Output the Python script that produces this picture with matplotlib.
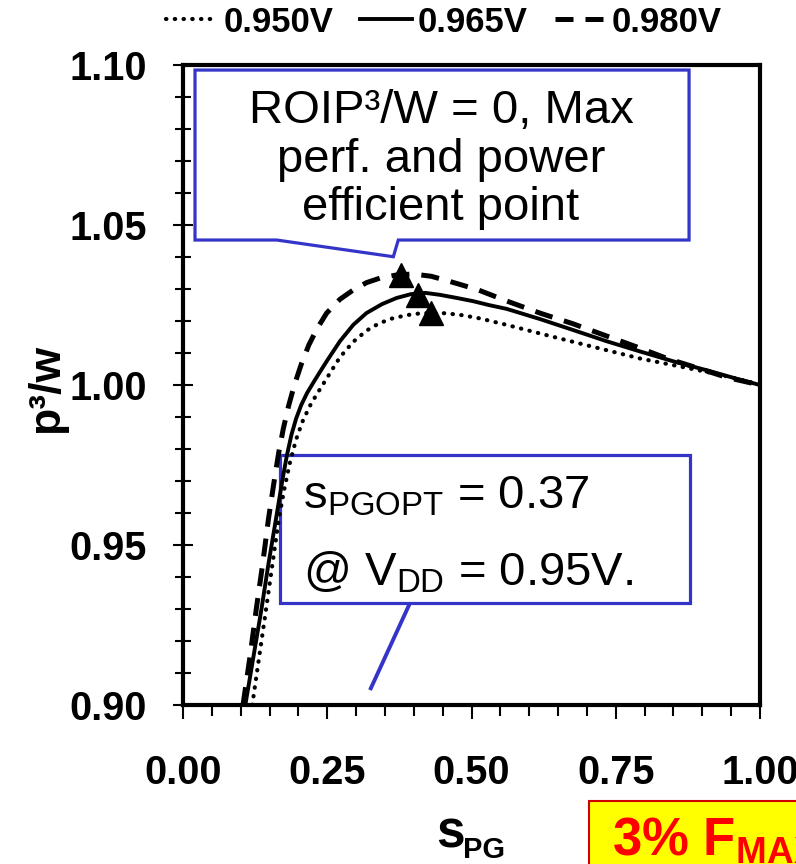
import matplotlib
matplotlib.use("Agg")
import matplotlib.pyplot as plt
from matplotlib.patches import Polygon, Rectangle
from matplotlib.ticker import MultipleLocator, FormatStrFormatter

plt.rcParams["font.family"] = ["Liberation Sans", "DejaVu Sans"]
plt.rcParams["font.weight"] = "bold"
plt.rcParams["mathtext.fontset"] = "custom"
plt.rcParams["mathtext.rm"] = "Liberation Sans"
plt.rcParams["mathtext.bf"] = "Liberation Sans:bold"

# ---------------- data: normalised p^3/W versus s_PG ----------------
vdd_labels = ["0.950V", "0.965V", "0.980V"]

spg_0950 = [0.120, 0.132, 0.144, 0.155, 0.166, 0.175, 0.185, 0.196, 0.208, 0.222,
            0.237, 0.255, 0.272, 0.295, 0.318, 0.340, 0.364, 0.390, 0.411, 0.435,
            0.457, 0.485, 0.515, 0.561, 0.619, 0.676, 0.734, 0.792, 0.850, 0.908,
            0.965, 1.000]
p3w_0950 = [0.900, 0.915, 0.930, 0.944, 0.958, 0.967, 0.9755, 0.9830, 0.9890, 0.9942,
            0.9986, 1.0038, 1.0087, 1.0135, 1.0170, 1.0193, 1.0209, 1.0219, 1.0224, 1.0226,
            1.0224, 1.0218, 1.0208, 1.0188, 1.0161, 1.0135, 1.0109, 1.0083, 1.0062, 1.0041,
            1.0018, 1.0000]

spg_0965 = [0.108, 0.122, 0.136, 0.148, 0.161, 0.172, 0.180, 0.188, 0.196, 0.205,
            0.215, 0.226, 0.238, 0.250, 0.272, 0.295, 0.318, 0.345, 0.370, 0.395,
            0.420, 0.445, 0.475, 0.503, 0.530, 0.561, 0.590, 0.619, 0.676, 0.734,
            0.792, 0.850, 0.908, 0.955, 1.000]
p3w_0965 = [0.900, 0.915, 0.930, 0.944, 0.958, 0.970, 0.978, 0.9845, 0.9895, 0.9938,
            0.9975, 1.0008, 1.0043, 1.0077, 1.0137, 1.0188, 1.0225, 1.0253, 1.0272, 1.0284,
            1.0288, 1.0282, 1.0272, 1.0262, 1.0250, 1.0238, 1.0222, 1.0206, 1.0172, 1.0137,
            1.0105, 1.0074, 1.0046, 1.0022, 1.0000]

spg_0980 = [0.104, 0.116, 0.127, 0.138, 0.148, 0.158, 0.166, 0.174, 0.183, 0.193,
            0.205, 0.218, 0.232, 0.249, 0.272, 0.295, 0.318, 0.341, 0.370, 0.399,
            0.430, 0.460, 0.509, 0.565, 0.620, 0.675, 0.730, 0.785, 0.839, 0.894,
            0.942, 1.000]
p3w_0980 = [0.900, 0.915, 0.930, 0.944, 0.958, 0.970, 0.979, 0.9865, 0.9935, 1.0000,
            1.0065, 1.0125, 1.0175, 1.0225, 1.0268, 1.0297, 1.0320, 1.0334, 1.0344, 1.0347,
            1.0340, 1.0325, 1.0299, 1.0260, 1.0224, 1.0192, 1.0156, 1.0120, 1.0083, 1.0052,
            1.0024, 1.0000]

# maximum of each curve (ROIP^3/W = 0), same order as vdd_labels
spg_opt = [0.429, 0.407, 0.378]
p3w_opt = [1.0225, 1.0282, 1.0344]

x_ticks = [0.00, 0.25, 0.50, 0.75, 1.00]
y_ticks = [0.90, 0.95, 1.00, 1.05, 1.10]

# ---------------- figure ----------------
fig = plt.figure(figsize=(7.96, 8.64), dpi=100)
fig.patch.set_facecolor("white")
ax = fig.add_axes([0.2299, 0.1840, 0.7249, 0.7407])

l950, = ax.plot(spg_0950, p3w_0950, color="black", lw=3.0,
                linestyle=(0, (0.1, 2.0)), dash_capstyle="round", zorder=3)
l965, = ax.plot(spg_0965, p3w_0965, color="black", lw=2.8, zorder=3)
l980, = ax.plot(spg_0980, p3w_0980, color="black", lw=3.6,
                linestyle=(0, (3.6, 2.4)), dash_capstyle="butt", zorder=3)
ax.plot(spg_opt, p3w_opt, linestyle="none", marker="^", ms=17,
        color="black", zorder=4, clip_on=False)

ax.set_xlim(x_ticks[0], x_ticks[-1])
ax.set_ylim(y_ticks[0], y_ticks[-1])
ax.set_xticks(x_ticks)
ax.set_yticks(y_ticks)
ax.xaxis.set_minor_locator(MultipleLocator(0.05))
ax.yaxis.set_minor_locator(MultipleLocator(0.01))
ax.xaxis.set_major_formatter(FormatStrFormatter("%.2f"))
ax.yaxis.set_major_formatter(FormatStrFormatter("%.2f"))

for sp in ax.spines.values():
    sp.set_linewidth(3)
ax.tick_params(axis="x", which="major", direction="out", length=10, width=1.5,
               pad=25, labelsize=28.5)
ax.tick_params(axis="x", which="minor", direction="out", length=8, width=1.5)
ax.tick_params(axis="y", which="major", direction="inout", length=14, width=1.5,
               pad=19, labelsize=28.5)
ax.tick_params(axis="y", which="minor", direction="inout", length=12, width=1.5)

# axis titles
fig.text(47 / 796, 1 - 388 / 864, "p³/w", rotation=90, ha="center", va="center",
         fontsize=32, fontweight="bold")
fig.text(436 / 796, 1 - 847 / 864, "s", fontsize=37, fontweight="bold", va="baseline")
fig.text(463 / 796, 1 - 858 / 864, "PG", fontsize=21, fontweight="bold", va="baseline")

# legend across the top
fig.legend([l950, l965, l980], vdd_labels, loc="center",
           bbox_to_anchor=(444 / 796, 1 - 22 / 864), ncol=3, frameon=False,
           prop={"weight": "bold", "size": 25}, handlelength=1.5,
           handletextpad=0.15, columnspacing=0.78, borderpad=0, borderaxespad=0)

# callout: maximum performance / power point
blue = "#3434C8"
top_box = [(0.0208, 0.9922), (0.8770, 0.9922), (0.8770, 0.7266), (0.3731, 0.7266),
           (0.3645, 0.7005), (0.1624, 0.7266), (0.0208, 0.7266)]
ax.add_patch(Polygon(top_box, closed=True, transform=ax.transAxes, facecolor="white",
                     edgecolor=blue, lw=2.3, joinstyle="miter", zorder=2, clip_on=False))
top_lines = ["ROIP³/W = 0, Max", "perf. and power", "efficient point"]
top_base = [0.909, 0.833, 0.758]
for txt, yb in zip(top_lines, top_base):
    ax.text(0.447, yb, txt, transform=ax.transAxes, ha="center", va="baseline",
            fontsize=34, fontweight="normal", zorder=5)

# callout: optimum s_PG
low_box = [(0.168, 0.3906), (0.879, 0.3906), (0.879, 0.1594), (0.168, 0.1594)]
ax.add_patch(Polygon(low_box, closed=True, transform=ax.transAxes, facecolor="none",
                     edgecolor=blue, lw=2.3, joinstyle="miter", zorder=2, clip_on=False))
ax.plot([0.3934, 0.3241], [0.1594, 0.0234], transform=ax.transAxes, color=blue,
        lw=2.8, solid_capstyle="butt", zorder=2)
ax.text(0.208, 0.3078, "s$_\\mathregular{PGOPT}$ = 0.37", transform=ax.transAxes,
        ha="left", va="baseline", fontsize=34, fontweight="normal", zorder=5)
ax.text(0.208, 0.1875, "@ V$_\\mathregular{DD}$ = 0.95V.", transform=ax.transAxes,
        ha="left", va="baseline", fontsize=34, fontweight="normal", zorder=5)

# frequency badge in the lower right corner
fig.add_artist(Rectangle((589 / 796, -0.05), 0.4, 0.05 + (1 - 801 / 864),
                         transform=fig.transFigure, facecolor="#FFFF00",
                         edgecolor="#D00000", lw=1.5))
fig.text(612 / 796, 1 - 855 / 864, "3% F$_\\mathregular{MAX}$", color="#FF0000",
         fontsize=38, fontweight="bold", va="baseline")

fig.savefig("out.png", dpi=100)
